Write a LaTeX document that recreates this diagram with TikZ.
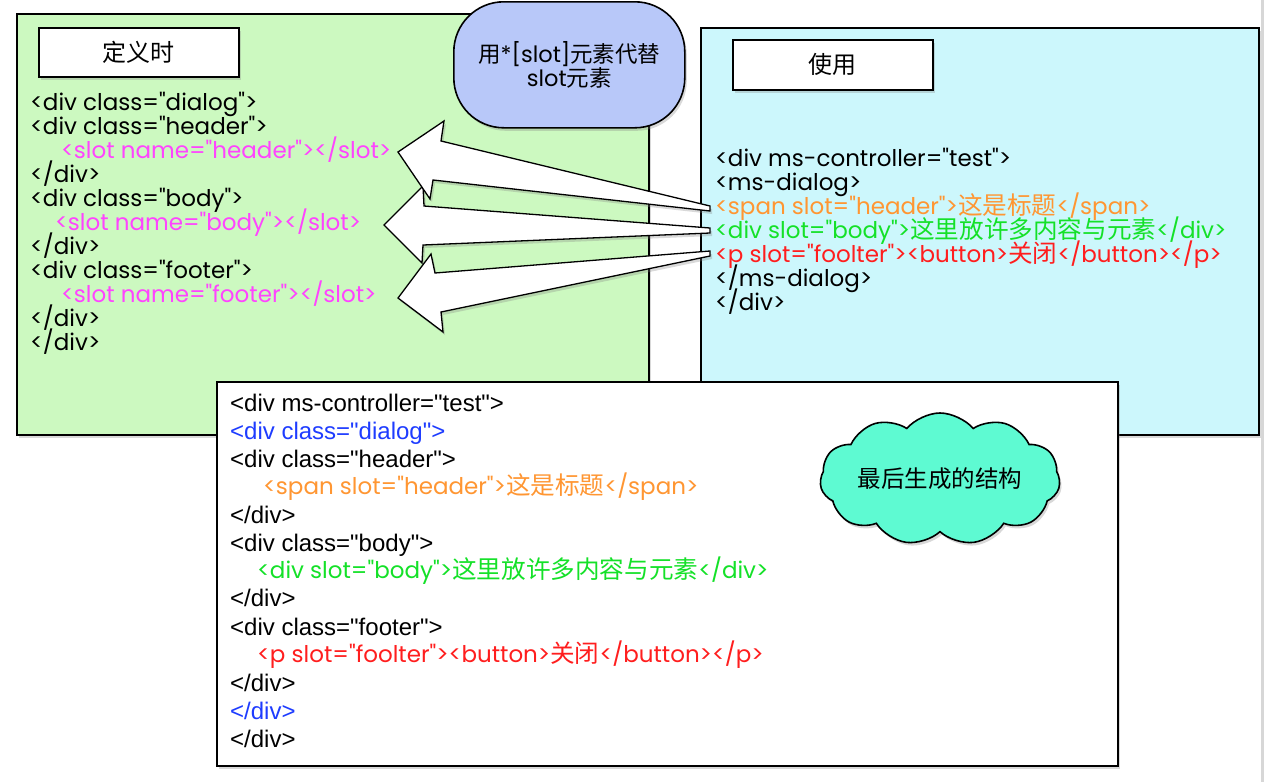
\documentclass[tikz,border=0pt]{standalone}
\usepackage{fontspec}
\newfontfamily\gothic{Poppins}
\newfontfamily\cjk{Noto Sans CJK SC}
\newfontfamily\cjkc{Noto Sans CJK SC}[Scale=1.07]
\newfontfamily\arialf{Liberation Sans}
\usetikzlibrary{shadows,shapes.symbols}
\definecolor{greenfill}{RGB}{204,249,192}
\definecolor{cyanfill}{RGB}{204,247,252}
\definecolor{bubblefill}{RGB}{184,200,249}
\definecolor{cloudfill}{RGB}{94,250,210}
\definecolor{slotmag}{RGB}{255,68,255}
\definecolor{codeorange}{RGB}{255,150,50}
\definecolor{codegreen}{RGB}{20,225,40}
\definecolor{codered}{RGB}{255,30,30}
\definecolor{codeblue}{RGB}{30,60,255}
\definecolor{edgegray}{RGB}{215,215,215}
\newcommand\zh[1]{{\cjk #1}}
\newcommand\zc[1]{{\cjkc #1}}
\tikzset{
  shadowed/.style={drop shadow={shadow xshift=2pt,shadow yshift=-3pt,opacity=0.3}},
  panel/.style={draw=black,line width=1.6pt,shadowed},
  titlebox/.style={draw=black,line width=1.6pt,fill=white,shadowed,minimum width=200pt,minimum height=49pt,inner sep=0pt,font=\cjk\fontsize{24}{24}\selectfont},
  code/.style={anchor=base west,inner sep=0pt,text height=16pt,text depth=5pt,font=\gothic\fontsize{23}{23}\selectfont},
  acode/.style={anchor=base west,inner sep=0pt,text height=17pt,text depth=5pt,font=\arialf\fontsize{24}{24}\selectfont},
  blockarrow/.style={draw=black,line width=1.3pt,fill=white,line join=miter,shadowed},
}
\begin{document}
\begin{tikzpicture}[x=1pt,y=-1pt]
\useasboundingbox (0,0) rectangle (1268,782);
% right gray edge
\fill[edgegray] (1261,0) rectangle (1264,782);
% green panel
\node[panel,fill=greenfill,minimum width=632pt,minimum height=421pt,anchor=north west,inner sep=0pt] (gpanel) at (16,13) {};
% cyan panel
\node[panel,fill=cyanfill,minimum width=558pt,minimum height=407pt,anchor=north west,inner sep=0pt] (cpanel) at (700,27) {};
% bubble
\node[draw=black,line width=1.6pt,fill=bubblefill,rounded corners=50pt,minimum width=231pt,minimum height=126pt,anchor=north west,inner sep=0pt,shadowed,align=center,font=\gothic\fontsize{22.5}{24}\selectfont] (bubble) at (453,1) {\zh{用}*[slot]\zh{元素代替}\\slot\zh{元素}};
% titles
\node[titlebox,anchor=north west] (tdef) at (38,27) {定义时};
\node[titlebox,anchor=north west,minimum height=50pt] (tuse) at (732,39) {使用};
% green code
\node[code] (g1) at (30,110) {<div class="dialog">};
\node[code] (g2) at (30,134) {<div class="header">};
\node[code,text=slotmag] (g3) at (61,158) {<slot name="header"></slot>};
\node[code] (g4) at (30,182) {</div>};
\node[code] (g5) at (30,206) {<div class="body">};
\node[code,text=slotmag] (g6) at (55,230) {<slot name="body"></slot>};
\node[code] (g7) at (30,254) {</div>};
\node[code] (g8) at (30,278) {<div class="footer">};
\node[code,text=slotmag] (g9) at (61,302) {<slot name="footer"></slot>};
\node[code] (g10) at (30,326) {</div>};
\node[code] (g11) at (30,350) {</div>};
% cyan code
\node[code] (c1) at (715,166) {<div ms-controller="test">};
\node[code] (c2) at (715,190) {<ms-dialog>};
\node[code,text=codeorange] (c3) at (715,214) {<span slot="header">\zc{这是标题}</span>};
\node[code,text=codegreen] (c4) at (715,238) {<div slot="body">\zc{这里放许多内容与元素}</div>};
\node[code,text=codered] (c5) at (715,262) {<p slot="foolter"><button>\zc{关闭}</button></p>};
\node[code] (c6) at (715,286) {</ms-dialog>};
\node[code] (c7) at (715,310) {</div>};
% arrows
\coordinate (h2) at (384,225);
\coordinate (t2a) at (710,228);
\coordinate (t2b) at (710,233);
\draw[blockarrow] (h2) -- (423,186) -- (424,206) -- (t2a) -- (t2b) -- (423,245) -- (422,263) -- cycle;
\coordinate (h1) at (398,152);
\coordinate (t1a) at (710,206);
\coordinate (t1b) at (710,211);
\draw[blockarrow] (h1) -- (444,121) -- (441,141) -- (t1a) -- (t1b) -- (433,180) -- (430,199) -- cycle;
\coordinate (h3) at (398,298);
\coordinate (t3a) at (710,251);
\coordinate (t3b) at (710,256);
\draw[blockarrow] (h3) -- (431,254) -- (435,273) -- (t3a) -- (t3b) -- (441,312) -- (443,332) -- cycle;
% bottom box
\node[panel,fill=white,minimum width=901pt,minimum height=384pt,anchor=north west,inner sep=0pt] (bbox) at (216,381) {};
\node[acode] (b1) at (230,411) {<div ms-controller="test">};
\node[acode,text=codeblue] (b2) at (230,439) {<div class="dialog">};
\node[acode] (b3) at (230,467) {<div class="header">};
\node[code,text=codeorange] (b4) at (263,494) {<span slot="header">\zc{这是标题}</span>};
\node[acode] (b5) at (230,523) {</div>};
\node[acode] (b6) at (230,551) {<div class="body">};
\node[code,text=codegreen] (b7) at (257,578) {<div slot="body">\zc{这里放许多内容与元素}</div>};
\node[acode] (b8) at (230,606) {</div>};
\node[acode] (b9) at (230,635) {<div class="footer">};
\node[code,text=codered] (b10) at (257,662) {<p slot="foolter"><button>\zc{关闭}</button></p>};
\node[acode] (b11) at (230,691) {</div>};
\node[acode,text=codeblue] (b12) at (230,719) {</div>};
\node[acode] (b13) at (230,747) {</div>};
% cloud
\node[cloud,cloud puffs=11,cloud puff arc=100,cloud ignores aspect,draw=black,line width=1.6pt,fill=cloudfill,minimum width=240pt,minimum height=132pt,inner sep=0pt,shadowed,font=\cjk\fontsize{23.5}{23.5}\selectfont] (cloud) at (940,479) {最后生成的结构};
\end{tikzpicture}
\end{document}
